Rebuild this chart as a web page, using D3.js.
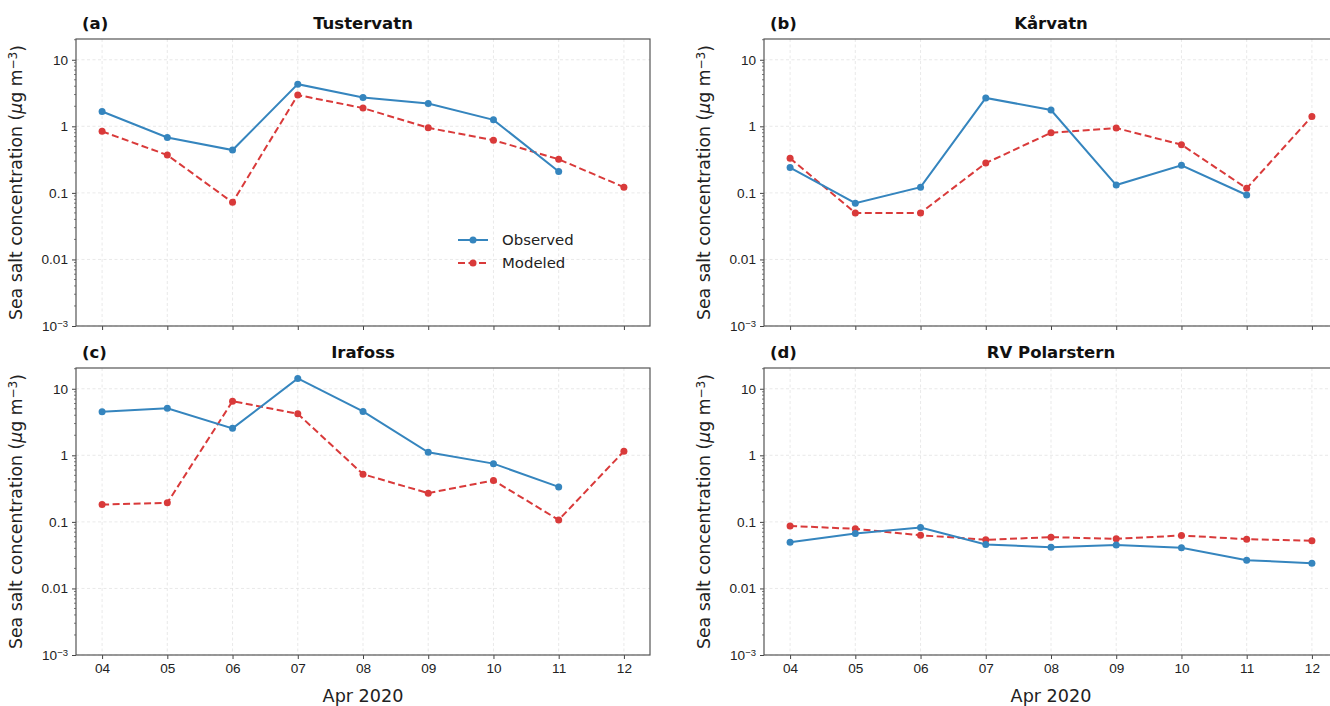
<!DOCTYPE html>
<html>
<head>
<meta charset="utf-8">
<script src="https://cdn.jsdelivr.net/npm/d3@7"></script>
<style>
  body { margin: 0; background: #fff; }
  svg { font-family: "DejaVu Sans", sans-serif; }
</style>
</head>
<body>
<div id="chart"></div>
<script>
// days of April 2020
const days = [4, 5, 6, 7, 8, 9, 10, 11, 12];

const tusObs = [1.67, 0.68, 0.44, 4.3, 2.7, 2.2, 1.25, 0.21, null];
const tusMod = [0.84, 0.37, 0.072, 2.95, 1.88, 0.95, 0.62, 0.32, 0.122];
const karObs = [0.24, 0.07, 0.122, 2.67, 1.76, 0.131, 0.26, 0.093, null];
const karMod = [0.33, 0.05, 0.05, 0.28, 0.8, 0.94, 0.53, 0.117, 1.41];
const iraObs = [4.5, 5.1, 2.54, 14.3, 4.57, 1.11, 0.75, 0.335, null];
const iraMod = [0.182, 0.193, 6.5, 4.2, 0.52, 0.27, 0.42, 0.107, 1.15];
const polObs = [0.0495, 0.067, 0.082, 0.0457, 0.0417, 0.045, 0.041, 0.0266, 0.024];
const polMod = [0.087, 0.0785, 0.063, 0.0537, 0.059, 0.0556, 0.0624, 0.055, 0.052];

const panelTags = ["(a)", "(b)", "(c)", "(d)"];
const panelNames = ["Tustervatn", "Kårvatn", "Irafoss", "RV Polarstern"];
const seriesNames = ["Observed", "Modeled"];
const yTicks = [1e-3, 1e-2, 1e-1, 1, 10];

const colors = { obs: "#3585be", mod: "#d93a3a" };

/**
 * Globals
 */
const W = 1330, H = 706;
const pw = 574, ph = 287;
const cols = [76, 764];
const rows = [39, 368];

const svg = d3.select("#chart").append("svg")
  .attr("width", W)
  .attr("height", H);

const date = d => new Date(Date.UTC(2020, 3, d));

// 0.4 day margin either side
const x = d3.scaleUtc()
  .domain([new Date(Date.UTC(2020, 3, 3, 14, 24)), new Date(Date.UTC(2020, 3, 12, 9, 36))])
  .range([0, pw]);

const y = d3.scaleLog()
  .domain([1e-3, 20.5])
  .range([ph, 0]);

const panels = [
  { obs: tusObs, mod: tusMod },
  { obs: karObs, mod: karMod },
  { obs: iraObs, mod: iraMod },
  { obs: polObs, mod: polMod },
];

panels.forEach(function (p, i) {
  const col = i % 2, row = Math.floor(i / 2);
  const g = svg.append("g")
    .attr("transform", "translate(" + cols[col] + "," + rows[row] + ")");

  // grid
  g.append("g").selectAll("line")
    .data(yTicks)
    .join("line")
    .attr("x1", 0).attr("x2", pw)
    .attr("y1", d => y(d)).attr("y2", d => y(d))
    .attr("stroke", "#e3e3e3").attr("stroke-width", 0.8)
    .attr("stroke-dasharray", "3,2.5");
  g.append("g").selectAll("line")
    .data(days)
    .join("line")
    .attr("x1", d => x(date(d))).attr("x2", d => x(date(d)))
    .attr("y1", 0).attr("y2", ph)
    .attr("stroke", "#e3e3e3").attr("stroke-width", 0.8)
    .attr("stroke-dasharray", "3,2.5");

  // x axis
  const xAxis = d3.axisBottom(x)
    .tickValues(days.map(date))
    .tickSize(4)
    .tickPadding(4)
    .tickFormat(row === 1 ? d3.utcFormat("%d") : () => "");
  const xg = g.append("g")
    .attr("transform", "translate(0," + ph + ")")
    .call(xAxis);
  xg.select(".domain").remove();
  xg.selectAll(".tick line").attr("stroke", "#444").attr("stroke-width", 1);
  xg.selectAll(".tick text").attr("fill", "#222").style("font-size", "13.6px");

  // y axis major
  const yAxis = d3.axisLeft(y)
    .tickValues(yTicks)
    .tickSize(4)
    .tickPadding(4)
    .tickFormat(v => (v >= 0.01 ? String(v) : ""));
  const yg = g.append("g").call(yAxis);
  yg.select(".domain").remove();
  yg.selectAll(".tick line").attr("stroke", "#444").attr("stroke-width", 1);
  yg.selectAll(".tick text").attr("fill", "#222").style("font-size", "13.6px");
  // 10^-3 label
  yg.selectAll(".tick").filter(d => d === 1e-3).select("text")
    .call(t => {
      t.text("10");
      t.append("tspan").attr("dy", "-0.45em").style("font-size", "9.5px").text("−3");
    });

  // y minor ticks
  const minors = [];
  for (let e = -3; e <= 1; e++) {
    for (let m = 2; m <= 9; m++) {
      const v = m * Math.pow(10, e);
      if (v <= y.domain()[1]) minors.push(v);
    }
  }
  g.append("g").selectAll("line")
    .data(minors)
    .join("line")
    .attr("x1", -2).attr("x2", 0)
    .attr("y1", d => y(d)).attr("y2", d => y(d))
    .attr("stroke", "#444").attr("stroke-width", 0.7);

  // frame
  g.append("rect")
    .attr("width", pw).attr("height", ph)
    .attr("fill", "none")
    .attr("stroke", "#555").attr("stroke-width", 1.2);

  // lines
  const line = d3.line()
    .defined(d => d.v != null)
    .x(d => x(date(d.day)))
    .y(d => y(d.v));

  [["mod", p.mod], ["obs", p.obs]].forEach(function (s) {
    const key = s[0];
    const pts = days.map((d, j) => ({ day: d, v: s[1][j] }));
    g.append("path")
      .datum(pts)
      .attr("fill", "none")
      .attr("stroke", colors[key])
      .attr("stroke-width", 2)
      .attr("stroke-dasharray", key === "mod" ? "7,3.5" : null)
      .attr("d", line);
    g.append("g").selectAll("circle")
      .data(pts.filter(d => d.v != null))
      .join("circle")
      .attr("cx", d => x(date(d.day)))
      .attr("cy", d => y(d.v))
      .attr("r", 3.5)
      .attr("fill", colors[key]);
  });

  // titles
  g.append("text")
    .attr("x", 6).attr("y", -10)
    .style("font-size", "16.5px").style("font-weight", "bold")
    .attr("fill", "#111")
    .text(panelTags[i]);
  g.append("text")
    .attr("x", pw / 2).attr("y", -10)
    .attr("text-anchor", "middle")
    .style("font-size", "16.5px").style("font-weight", "bold")
    .attr("fill", "#111")
    .text(panelNames[i]);

  // y label
  const yl = g.append("text")
    .attr("transform", "translate(-54," + ph / 2 + ") rotate(-90)")
    .attr("text-anchor", "middle")
    .style("font-size", "17.3px")
    .attr("fill", "#222");
  yl.append("tspan").text("Sea salt concentration (");
  yl.append("tspan").style("font-style", "italic").text("μ");
  yl.append("tspan").text("g m");
  yl.append("tspan").attr("dy", "-0.45em").style("font-size", "12px").text("−3");
  yl.append("tspan").attr("dy", "0.45em").text(")");

  // x label
  if (row === 1) {
    g.append("text")
      .attr("x", pw / 2).attr("y", ph + 47)
      .attr("text-anchor", "middle")
      .style("font-size", "17.6px")
      .attr("fill", "#222")
      .text("Apr 2020");
  }

  // legend
  if (i === 0) {
    const lg = g.append("g").attr("transform", "translate(382,201)");
    [["obs", 0], ["mod", 1]].forEach(function (s) {
      const item = lg.append("g").attr("transform", "translate(0," + s[1] * 23 + ")");
      item.append("line")
        .attr("x1", 0).attr("x2", 30)
        .attr("stroke", colors[s[0]]).attr("stroke-width", 2)
        .attr("stroke-dasharray", s[0] === "mod" ? "7,3.5" : null);
      item.append("circle").attr("cx", 15).attr("r", 3.5).attr("fill", colors[s[0]]);
      item.append("text")
        .attr("x", 44).attr("dy", "0.35em")
        .style("font-size", "14.9px")
        .attr("fill", "#222")
        .text(seriesNames[s[1]]);
    });
  }
});
</script>
</body>
</html>
